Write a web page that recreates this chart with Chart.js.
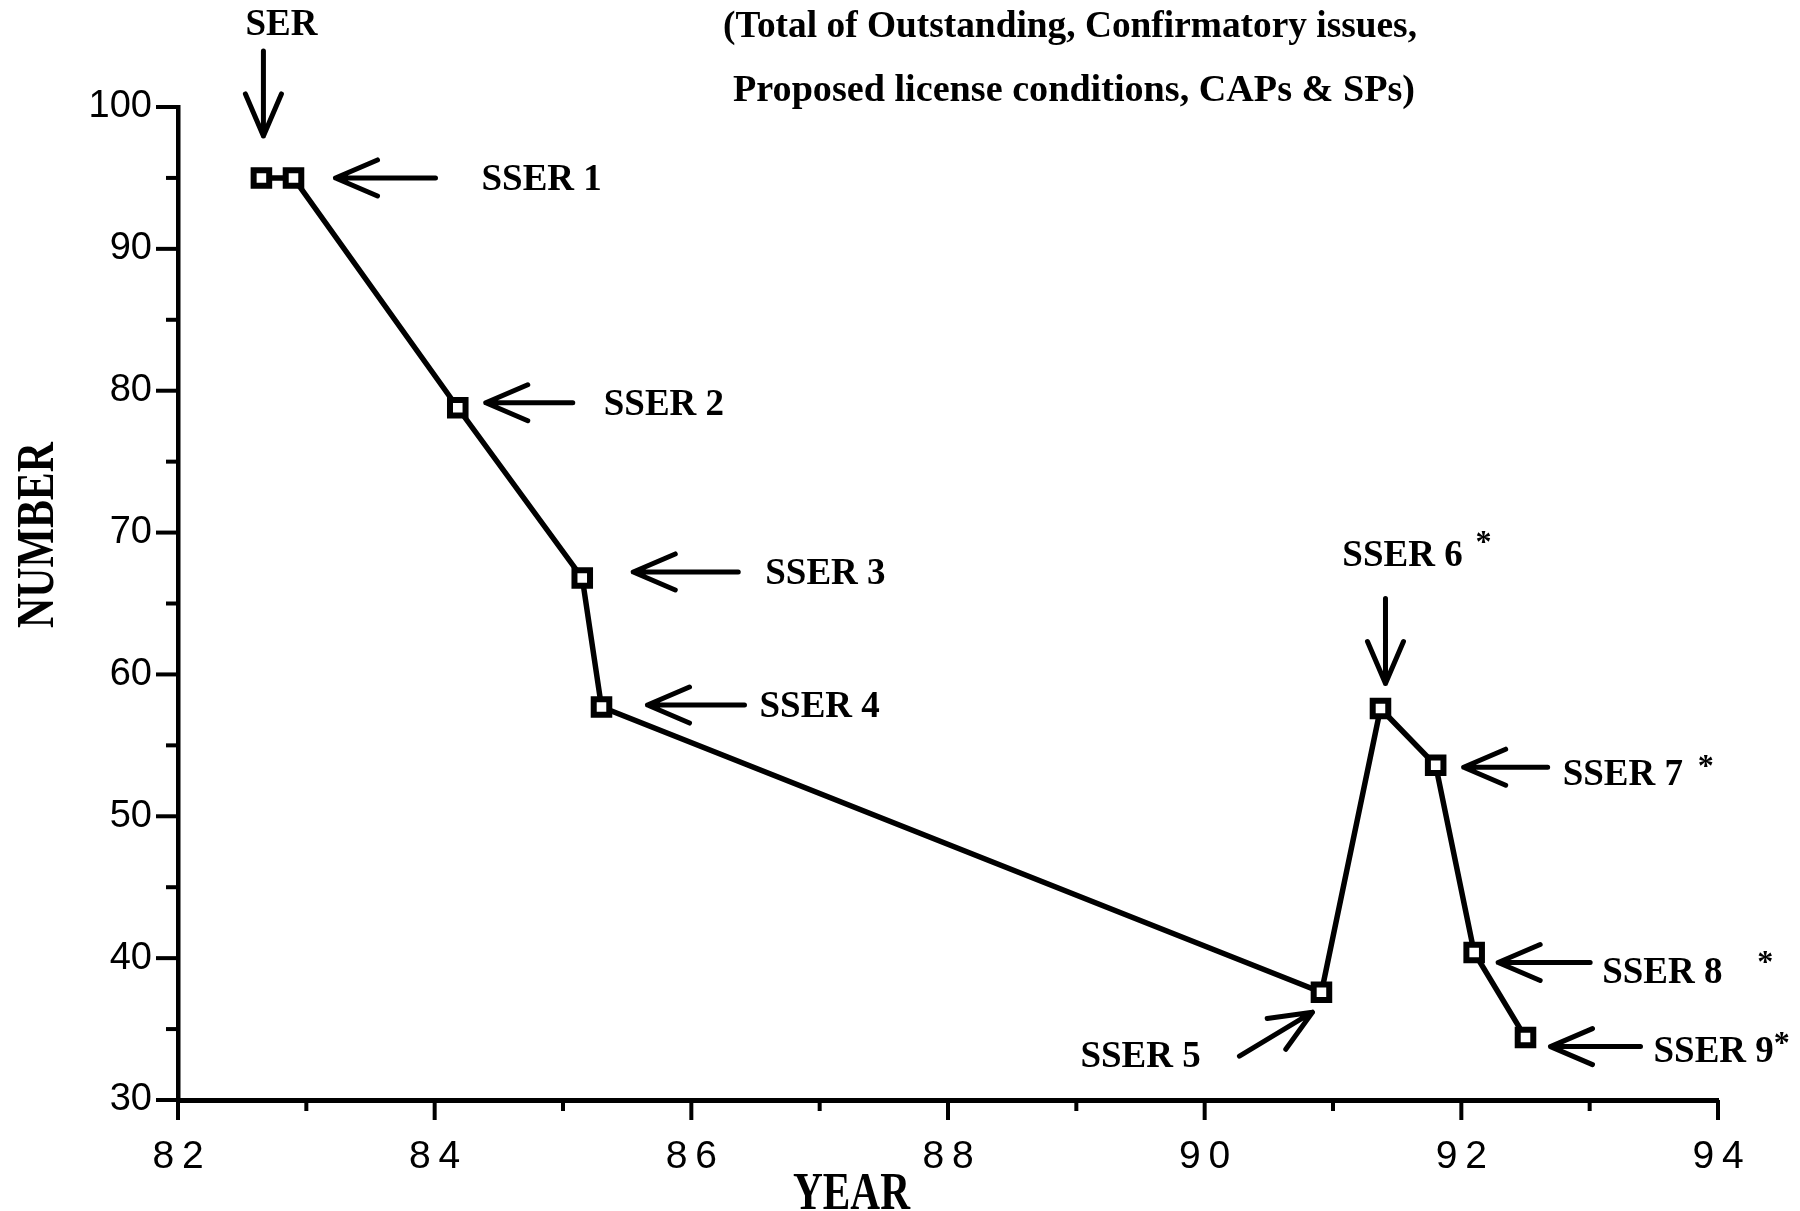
<!DOCTYPE html>
<html>
<head>
<meta charset="utf-8">
<script src="https://cdn.jsdelivr.net/npm/chart.js@4.4.1/dist/chart.umd.min.js"></script>
<style>
html,body{margin:0;padding:0;background:#fff;}
#wrap{width:1800px;height:1211px;position:relative;}
</style>
</head>
<body>
<div id="wrap"><canvas id="c" width="1800" height="1211"></canvas></div>
<script>
// ---- data ----
const years = [82.65, 82.9, 84.18, 85.15, 85.3, 90.91, 91.37, 91.8, 92.1, 92.5];
const counts = [95, 95, 78.8, 66.8, 57.7, 37.6, 57.6, 53.6, 40.4, 34.4];
const reportLabels = ['SER', 'SSER 1', 'SSER 2', 'SSER 3', 'SSER 4', 'SSER 5', 'SSER 6', 'SSER 7', 'SSER 8', 'SSER 9'];
const starred = [false, false, false, false, false, false, true, true, true, true];
const xTickValues = [82, 84, 86, 88, 90, 92, 94];
const yTickValues = [30, 40, 50, 60, 70, 80, 90, 100];
const titleLines = ['(Total of Outstanding, Confirmatory issues,', 'Proposed license conditions, CAPs & SPs)'];
const yAxisTitle = 'NUMBER';
const xAxisTitle = 'YEAR';

const points = years.map((x, i) => ({x: x, y: counts[i]}));

// ---- annotation layout (pixel offsets from each point) ----
const notes = [
  {arrow: [2, -127, 2, -42], text: [20, -155, 'center']},
  {arrow: [142, 0, 42, 0], text: [188, 0, 'left']},
  {arrow: [115, -5, 28, -5], text: [146, -5, 'left']},
  {arrow: [156, -6, 51, -6], text: [183, -6, 'left']},
  {arrow: [143, -2, 46, -2], text: [158, -2, 'left']},
  {arrow: [-82, 64, -9, 20], text: [-241, 63, 'left']},
  {arrow: [5, -110, 5, -25], text: [22, -155, 'center'], star: [103, -173]},
  {arrow: [112, 2, 28, 2], text: [127, 8, 'left'], star: [270, -6]},
  {arrow: [116, 10, 24, 10], text: [128, 18, 'left'], star: [291, 3]},
  {arrow: [115, 9, 25, 9], text: [128, 12, 'left'], star: 'inline'}
];

const SERIF = '"Liberation Serif", "Times New Roman", serif';
const SANS = '"Liberation Sans", Arial, Helvetica, sans-serif';

function drawArrow(ctx, x1, y1, x2, y2) {
  const ang = Math.atan2(y2 - y1, x2 - x1);
  const hl = 42, hw = 18;
  const bx = x2 - hl * Math.cos(ang), by = y2 - hl * Math.sin(ang);
  const px = -Math.sin(ang) * hw, py = Math.cos(ang) * hw;
  ctx.save();
  ctx.strokeStyle = '#000';
  ctx.lineWidth = 5;
  ctx.lineCap = 'round';
  ctx.lineJoin = 'round';
  ctx.beginPath();
  ctx.moveTo(x1, y1); ctx.lineTo(x2, y2);
  ctx.moveTo(bx + px, by + py); ctx.lineTo(x2, y2); ctx.lineTo(bx - px, by - py);
  ctx.stroke();
  ctx.restore();
}

function fitText(ctx, text, x, baseline, size, width, align) {
  ctx.save();
  ctx.font = 'bold ' + size + 'px ' + SERIF;
  const w = ctx.measureText(text).width;
  const sx = width ? width / w : 1;
  ctx.translate(x, baseline);
  ctx.scale(sx, 1);
  ctx.textAlign = align || 'center';
  ctx.textBaseline = 'alphabetic';
  ctx.fillStyle = '#000';
  ctx.fillText(text, 0, 0);
  ctx.restore();
}

const decorPlugin = {
  id: 'decor',
  afterDraw(chart) {
    const ctx = chart.ctx;
    const xs = chart.scales.x, ys = chart.scales.y;
    const area = chart.chartArea;
    // tick marks
    ctx.save();
    ctx.strokeStyle = '#000';
    ctx.lineWidth = 4;
    ctx.lineCap = 'butt';
    for (let v = ys.min; v <= ys.max; v += 5) {
      const py = ys.getPixelForValue(v);
      const len = (v % 10 === 0) ? 22 : 12;
      ctx.beginPath(); ctx.moveTo(area.left - len, py); ctx.lineTo(area.left, py); ctx.stroke();
    }
    for (let v = xs.min; v <= xs.max; v += 1) {
      const px = xs.getPixelForValue(v);
      const len = (v % 2 === 0) ? 20 : 11;
      ctx.beginPath(); ctx.moveTo(px, area.bottom); ctx.lineTo(px, area.bottom + len); ctx.stroke();
    }
    ctx.restore();

    // annotations
    points.forEach((p, i) => {
      const n = notes[i];
      const px = xs.getPixelForValue(p.x), py = ys.getPixelForValue(p.y);
      const a = n.arrow;
      drawArrow(ctx, px + a[0], py + a[1], px + a[2], py + a[3]);
      const size = 37;
      ctx.save();
      ctx.font = 'bold ' + size + 'px ' + SERIF;
      ctx.fillStyle = '#000';
      ctx.textAlign = n.text[2];
      ctx.textBaseline = 'alphabetic';
      const tx = px + n.text[0], base = py + n.text[1] + size * 0.33;
      ctx.fillText(reportLabels[i], tx, base);
      if (starred[i]) {
        if (n.star === 'inline') {
          const tw = ctx.measureText(reportLabels[i]).width;
          ctx.font = 'bold 32px ' + SERIF;
          ctx.textAlign = 'center';
          ctx.fillText('*', tx + tw + 8, py + n.text[1] - 14 + 17);
        } else {
          ctx.font = 'bold 32px ' + SERIF;
          ctx.textAlign = 'center';
          ctx.fillText('*', px + n.star[0], py + n.star[1] + 17);
        }
      }
      ctx.restore();
    });

    // header text
    fitText(ctx, titleLines[0], 1070, 37, 38, 694, 'center');
    fitText(ctx, titleLines[1], 1074, 101, 38, 682, 'center');

    // axis titles
    ctx.save();
    ctx.translate(35, 535);
    ctx.rotate(-Math.PI / 2);
    fitText(ctx, yAxisTitle, 0, 17.5, 52, 186, 'center');
    ctx.restore();
    fitText(ctx, xAxisTitle, 793, 1209, 52, 117, 'left');
  }
};

new Chart(document.getElementById('c'), {
  type: 'line',
  data: {
    datasets: [
      {
        data: points,
        borderColor: '#000',
        borderWidth: 5.5,
        pointStyle: 'rect',
        pointRadius: 11,
        pointBorderWidth: 6,
        pointBackgroundColor: '#fff',
        pointBorderColor: '#000',
        tension: 0,
        clip: false
      },
      {
        data: points,
        showLine: false,
        pointStyle: 'rect',
        pointRadius: 2.4,
        pointBorderWidth: 0,
        pointBackgroundColor: '#000',
        clip: false
      }
    ]
  },
  options: {
    responsive: false,
    animation: false,
    devicePixelRatio: 1,
    layout: {padding: {top: 107, right: 82, left: 0, bottom: 0}},
    plugins: {legend: {display: false}, tooltip: {enabled: false}, title: {display: false}},
    events: [],
    scales: {
      x: {
        type: 'linear',
        min: 82, max: 94,
        afterBuildTicks: s => { s.ticks = xTickValues.map(v => ({value: v})); },
        afterFit: s => { s.height = 111; },
        grid: {display: false, drawTicks: false},
        border: {display: true, color: '#000', width: 5},
        ticks: {
          autoSkip: false, maxRotation: 0,
          padding: 34,
          color: '#000',
          font: {family: SANS, size: 39},
          callback: v => String(v).split('').join('\u2009')
        }
      },
      y: {
        min: 30, max: 100,
        afterBuildTicks: s => { s.ticks = yTickValues.map(v => ({value: v})); },
        afterFit: s => { s.width = 178; },
        grid: {display: false, drawTicks: false},
        border: {display: true, color: '#000', width: 4.5},
        ticks: {
          padding: 26,
          color: '#000',
          font: {family: SANS, size: 38},
          callback: v => String(v)
        }
      }
    }
  },
  plugins: [decorPlugin]
});
</script>
</body>
</html>
